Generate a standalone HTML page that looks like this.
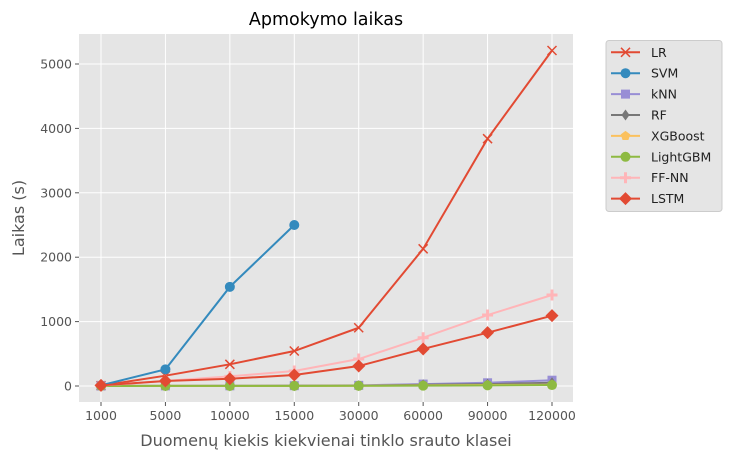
<!DOCTYPE html>
<html><head><meta charset="utf-8"><style>
body{margin:0;background:#fff}
svg{display:block;font-family:"DejaVu Sans","Liberation Sans",sans-serif}
</style></head><body>
<svg id="c" width="733" height="460"></svg>
<script>
const categories=["1000","5000","10000","15000","30000","60000","90000","120000"];
const yTicks=[0,1000,2000,3000,4000,5000];
const seriesNames=["LR","SVM","kNN","RF","XGBoost","LightGBM","FF-NN","LSTM"];
const lrValues=[5,160,337,543,905,2130,3840,5210];
const svmValues=[10,259,1540,2500];
const knnValues=[1,2,3,5,10,30,50,90];
const rfValues=[1,1,2,3,5,20,30,50];
const xgbValues=[1,1,1,2,3,10,15,20];
const lgbmValues=[0.5,1,1,2,3,5,10,15];
const ffnnValues=[5,80,150,233,419,750,1102,1413];
const lstmValues=[10,78,113,171,310,575,828,1092];
const seriesValues=[lrValues,svmValues,knnValues,rfValues,xgbValues,lgbmValues,ffnnValues,lstmValues];
const colors=["#E24A33","#348ABD","#988ED5","#777777","#FBC15E","#8EBA42","#FFB5B8","#E24A33"];
const markers=["x","o","s","d","p","o","+","D"];

const NS="http://www.w3.org/2000/svg";
const svg=document.getElementById("c");
function el(t,a,p){const e=document.createElementNS(NS,t);for(const k in a)e.setAttribute(k,a[k]);(p||svg).appendChild(e);return e;}
const L=79,R=573,T=34,B=402;
const xs=i=>101+i*(451/7);
const ys=v=>386-v*0.0644;

let e=el("rect",{x:L,y:T,width:R-L,height:B-T,fill:"#E5E5E5"});


yTicks.forEach(v=>{
  let g=el("line",{x1:L,x2:R,y1:ys(v),y2:ys(v),stroke:"#fff","stroke-width":1});
  
  
  el("line",{x1:L-4,x2:L,y1:ys(v),y2:ys(v),stroke:"#555"});
  let t=el("text",{x:L-7,y:ys(v)+4.5,"text-anchor":"end","font-size":12.5,fill:"#555"});t.textContent=v;
  
  
});
categories.forEach((c,i)=>{
  let g=el("line",{x1:xs(i),x2:xs(i),y1:T,y2:B,stroke:"#fff","stroke-width":1});
  
  
  el("line",{x1:xs(i),x2:xs(i),y1:B,y2:B+4,stroke:"#555"});
  let t=el("text",{x:xs(i),y:B+18,"text-anchor":"middle","font-size":12.5,fill:"#555"});t.textContent=c;
  
  
});

function marker(g,m,x,y,c){
  if(m==="x"){el("path",{d:`M${x-4.5},${y-4.5}L${x+4.5},${y+4.5}M${x-4.5},${y+4.5}L${x+4.5},${y-4.5}`,stroke:c,"stroke-width":1.5,fill:"none"},g);}
  else if(m==="+"){el("path",{d:`M${x-5.5},${y}L${x+5.5},${y}M${x},${y-5.5}L${x},${y+5.5}`,stroke:c,"stroke-width":3,fill:"none"},g);}
  else if(m==="o"){el("circle",{cx:x,cy:y,r:5,fill:c},g);}
  else if(m==="s"){el("rect",{x:x-4.5,y:y-4.5,width:9,height:9,fill:c},g);}
  else if(m==="d"){el("path",{d:`M${x},${y-5.5}L${x+4},${y}L${x},${y+5.5}L${x-4},${y}Z`,fill:c},g);}
  else if(m==="D"){el("path",{d:`M${x},${y-6.5}L${x+6.5},${y}L${x},${y+6.5}L${x-6.5},${y}Z`,fill:c},g);}
  else if(m==="p"){let p=[];for(let k=0;k<5;k++){const a=-Math.PI/2+k*2*Math.PI/5;p.push((x+5*Math.cos(a))+","+(y+5*Math.sin(a)));}el("polygon",{points:p.join(" "),fill:c},g);}
}

seriesValues.forEach((vals,s)=>{
  const g=el("g",{});
  
  
  el("polyline",{points:vals.map((v,i)=>xs(i)+","+ys(v)).join(" "),fill:"none",stroke:colors[s],"stroke-width":2});
  vals.forEach((v,i)=>marker(g,markers[s],xs(i),ys(v),colors[s]));
});

let t=el("text",{x:326,y:25,"text-anchor":"middle","font-size":17.5,fill:"#000"});t.textContent="Apmokymo laikas";


t=el("text",{x:326,y:446,"text-anchor":"middle","font-size":16,fill:"#555"});t.textContent="Duomenų kiekis kiekvienai tinklo srauto klasei";


t=el("text",{x:0,y:0,"text-anchor":"middle","font-size":16,fill:"#555",transform:"translate(24,218) rotate(-90)"});t.textContent="Laikas (s)";



const lg=el("g",{});


el("rect",{x:606,y:40.5,width:116,height:171,rx:3,fill:"#E5E5E5",stroke:"#ccc"},lg);
seriesNames.forEach((n,s)=>{
  const y=52.3+s*20.9;
  const g=el("g",{},lg);
  
  
  el("line",{x1:611,x2:640,y1:y,y2:y,stroke:colors[s],"stroke-width":2},g);
  marker(g,markers[s],625.5,y,colors[s]);
  const tt=el("text",{x:651,y:y+4.5,"font-size":12.5,fill:"#222"},g);tt.textContent=n;
});
</script>
</body></html>
